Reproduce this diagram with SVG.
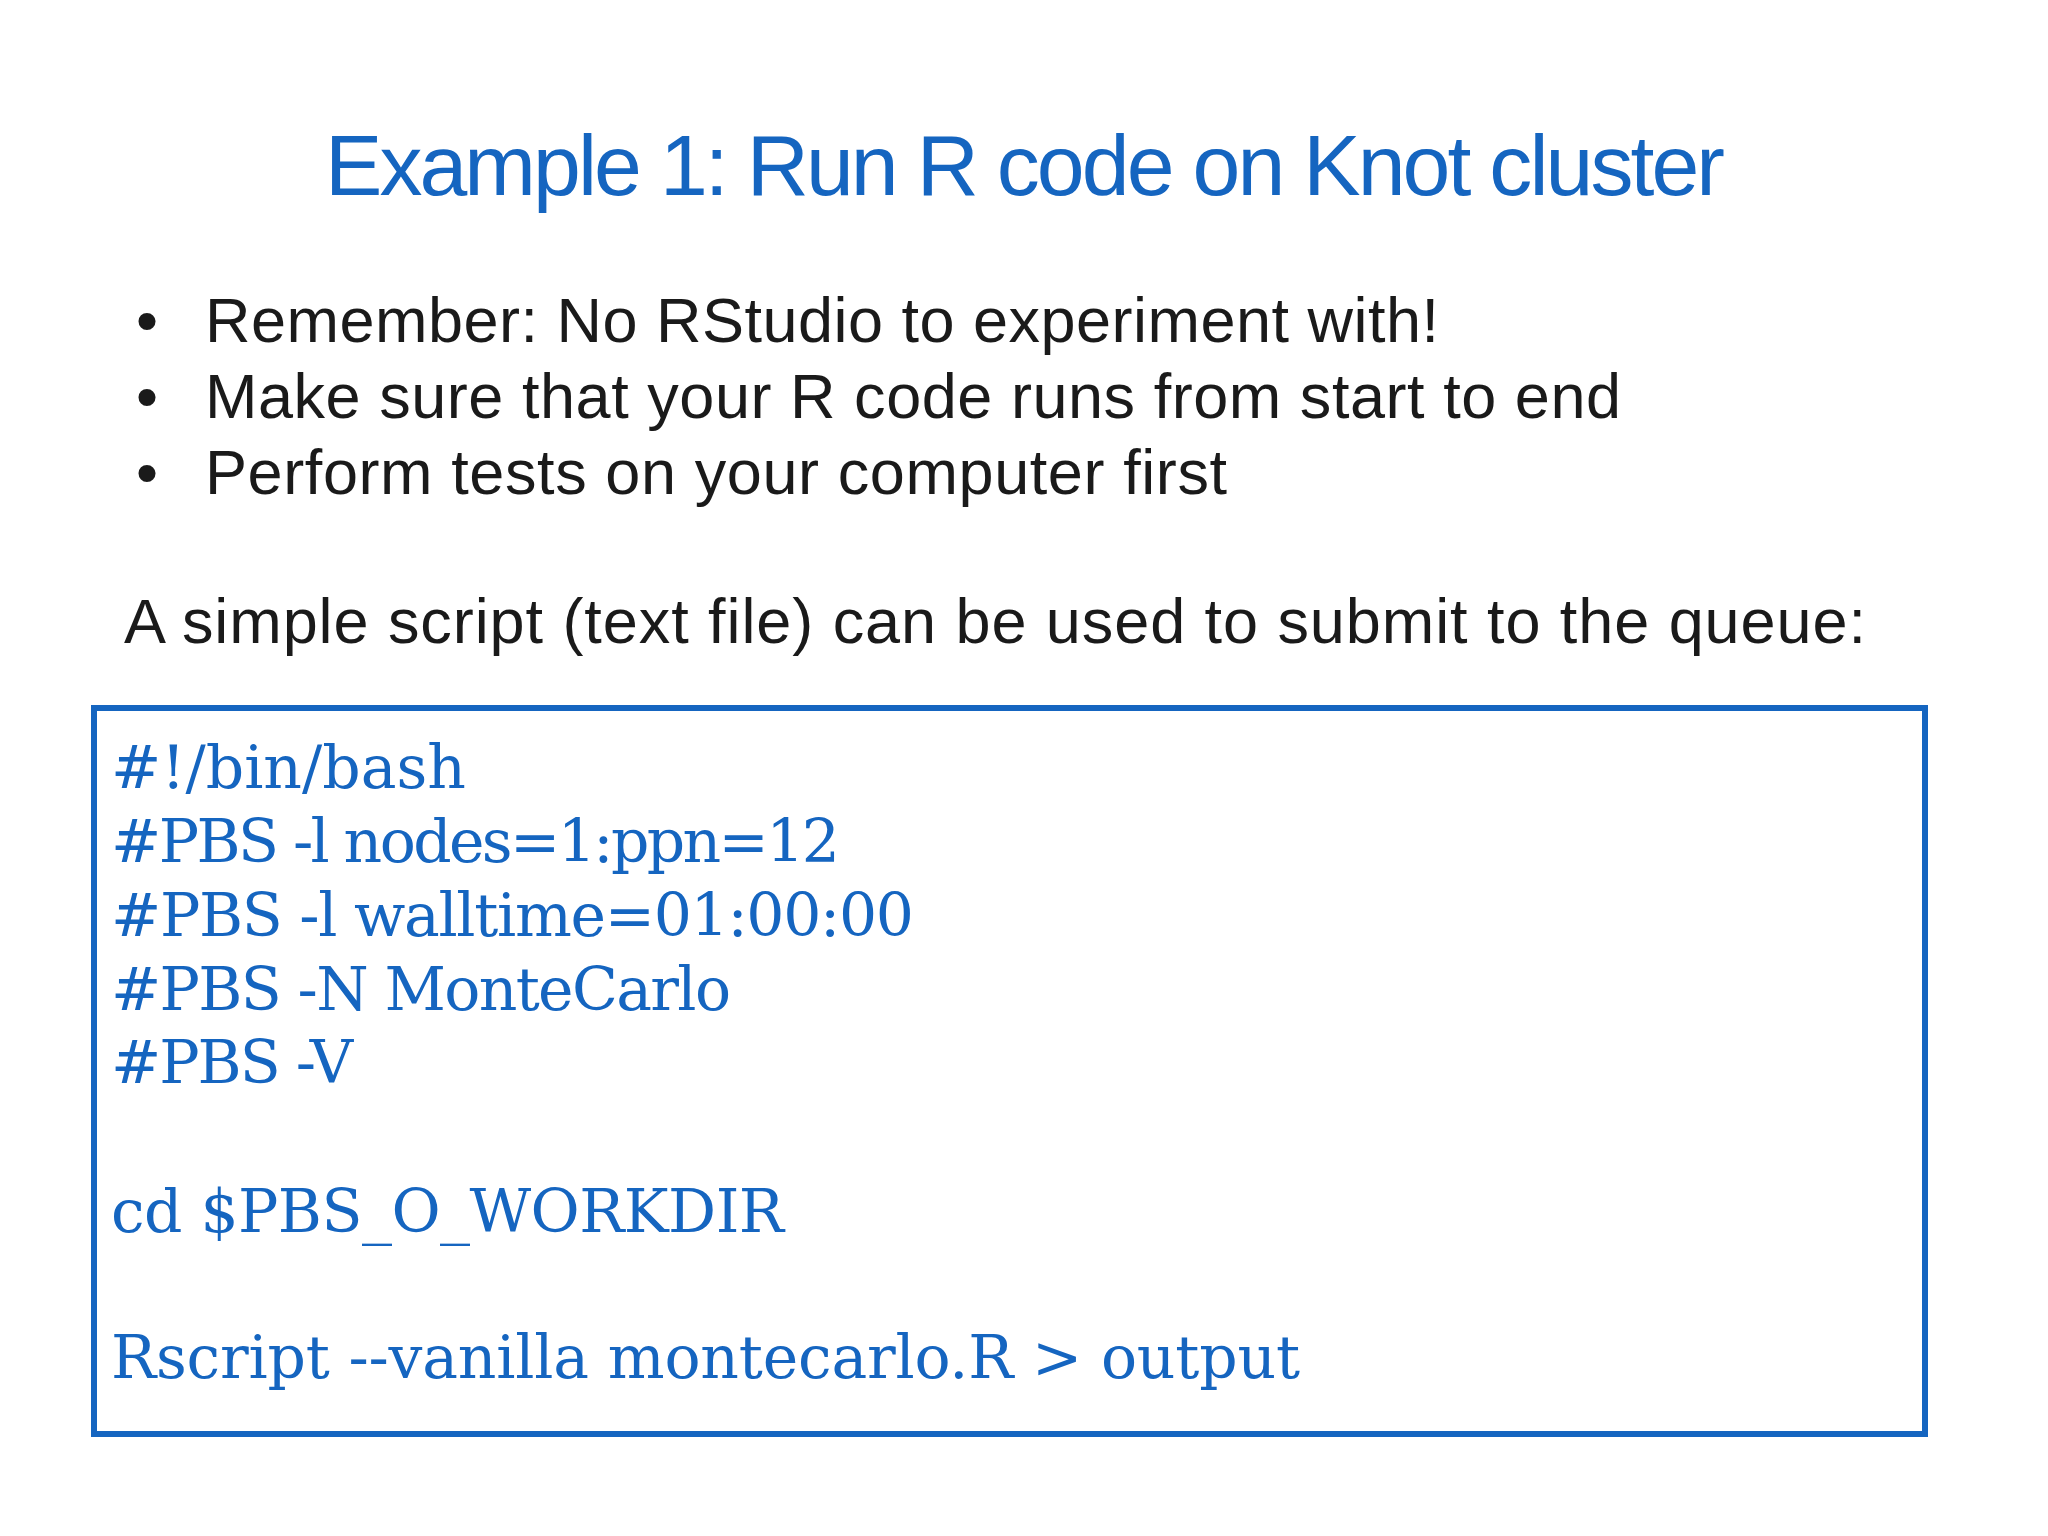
<svg xmlns="http://www.w3.org/2000/svg" width="2048" height="1536" viewBox="0 0 2048 1536">
<style>
.t{font-family:"Liberation Sans",Arial,sans-serif;fill:#1a1a1a}
.c{font-family:"DejaVu Serif","Liberation Serif",serif;fill:#1565c0;font-size:60px}
</style>
<rect width="2048" height="1536" fill="#ffffff"/>
<g id="title"><text x="1025" y="195" text-anchor="middle" font-family="Liberation Sans, Arial, sans-serif" font-size="86" fill="#1565c0" textLength="1400">Example 1: Run R code on Knot cluster</text></g>
<g id="bullets" class="t" font-size="63">
<text x="136" y="342">•</text><text x="205" y="342" class="t" textLength="1234">Remember: No RStudio to experiment with!</text>
<text x="136" y="418">•</text><text x="205" y="418" class="t" textLength="1416">Make sure that your R code runs from start to end</text>
<text x="136" y="494">•</text><text x="205" y="494" class="t" textLength="1022">Perform tests on your computer first</text>
<text x="124" y="643" class="t" textLength="1742">A simple script (text file) can be used to submit to the queue:</text>
</g>
<g id="codebox">
<rect x="94" y="708" width="1831" height="726" fill="#ffffff" stroke="#1565c0" stroke-width="6"/>
<text class="c" x="111" y="788" textLength="355">#!/bin/bash</text>
<text class="c" x="111" y="862" textLength="729">#PBS -l nodes=1:ppn=12</text>
<text class="c" x="111" y="936" textLength="803">#PBS -l walltime=01:00:00</text>
<text class="c" x="111" y="1010" textLength="620">#PBS -N MonteCarlo</text>
<text class="c" x="111" y="1083" textLength="242">#PBS -V</text>
<text class="c" x="111" y="1232" textLength="673">cd $PBS_O_WORKDIR</text>
<text class="c" x="111" y="1378" textLength="1189">Rscript --vanilla montecarlo.R &gt; output</text>
</g>
<g id="connectors"/>
</svg>
